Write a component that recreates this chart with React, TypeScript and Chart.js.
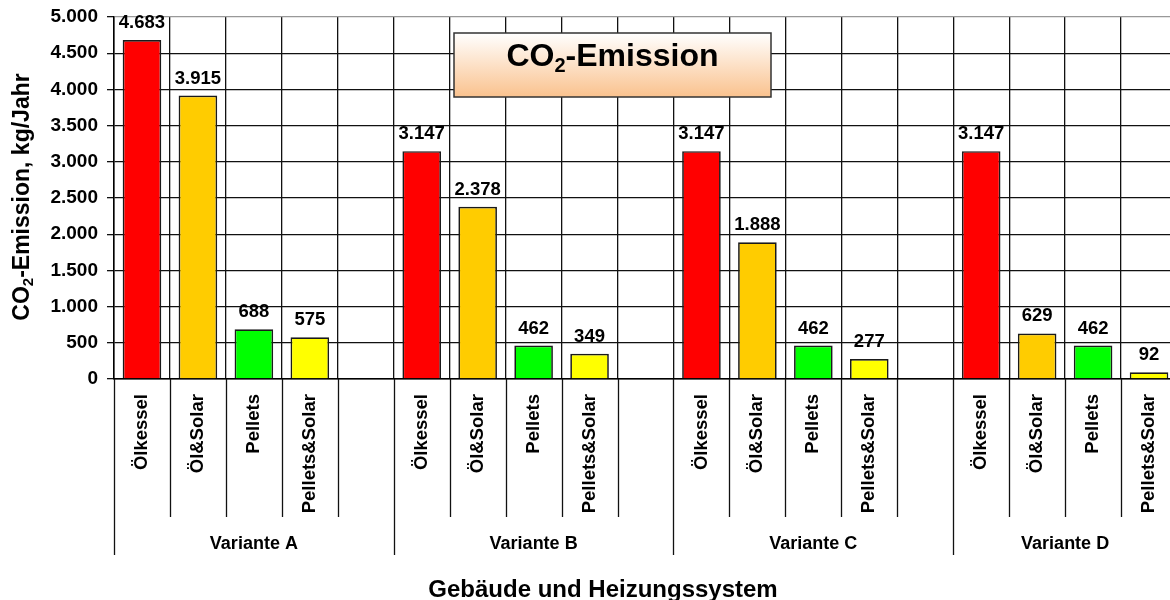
import React, { useEffect, useRef } from 'react';
import { Chart, registerables } from 'chart.js';

Chart.register(...registerables);

const categories = [
  'Ölkessel', 'Öl&Solar', 'Pellets', 'Pellets&Solar', '',
  'Ölkessel', 'Öl&Solar', 'Pellets', 'Pellets&Solar', '',
  'Ölkessel', 'Öl&Solar', 'Pellets', 'Pellets&Solar', '',
  'Ölkessel', 'Öl&Solar', 'Pellets', 'Pellets&Solar',
];
const groupLabels = ['Variante A', 'Variante B', 'Variante C', 'Variante D'];
const groupSizes = [5, 5, 5, 4];
const emissions: (number | null)[] = [
  4683, 3915, 688, 575, null,
  3147, 2378, 462, 349, null,
  3147, 1888, 462, 277, null,
  3147, 629, 462, 92,
];
const systemColors = ['#FF0000', '#FFCC00', '#00FF00', '#FFFF00', 'rgba(0,0,0,0)'];
const yMin = 0;
const yMax = 5000;
const yStep = 500;
const chartTitle = [['CO', false], ['2', true], ['-Emission', false]] as [string, boolean][];
const yTitle = [['CO', false], ['2', true], ['-Emission, kg/Jahr', false]] as [string, boolean][];
const xTitle = 'Gebäude und Heizungssystem';

const FONT = "'Liberation Sans', Arial, Helvetica, sans-serif";
const fmt = (v: number) => String(Math.round(v)).replace(/\B(?=(\d{3})+(?!\d))/g, '.');

function drawChem(ctx: CanvasRenderingContext2D, parts: [string, boolean][], cx: number, baseY: number, big: number, small: number, shift: number) {
  const widths = parts.map(([t, sub]) => {
    ctx.font = `bold ${sub ? small : big}px ${FONT}`;
    return ctx.measureText(t).width;
  });
  const total = widths.reduce((a, b) => a + b, 0);
  let x = cx - total / 2;
  ctx.textAlign = 'left';
  ctx.textBaseline = 'alphabetic';
  parts.forEach(([t, sub], i) => {
    ctx.font = `bold ${sub ? small : big}px ${FONT}`;
    ctx.fillText(t, x, baseY + (sub ? shift : 0));
    x += widths[i];
  });
}

const overlay = {
  id: 'overlay',
  afterDatasetsDraw(chart: any) {
    const ctx: CanvasRenderingContext2D = chart.ctx;
    const meta = chart.getDatasetMeta(0);
    ctx.save();
    ctx.font = `bold 18.5px ${FONT}`;
    ctx.fillStyle = '#000';
    ctx.textAlign = 'center';
    ctx.textBaseline = 'alphabetic';
    meta.data.forEach((el: any, i: number) => {
      const v = emissions[i];
      if (v == null) return;
      ctx.fillText(fmt(v), el.x, el.y - 12);
    });
    ctx.restore();
  },
  afterDraw(chart: any) {
    const ctx: CanvasRenderingContext2D = chart.ctx;
    const { chartArea } = chart;
    const x = chart.scales.x;
    const bottom = chartArea.bottom;
    const half = (x.getPixelForValue(1) - x.getPixelForValue(0)) / 2;
    const groupStarts: number[] = [];
    let acc = 0;
    groupSizes.forEach((s) => { groupStarts.push(acc); acc += s; });
    groupStarts.push(acc);

    ctx.save();
    ctx.strokeStyle = '#111';
    ctx.lineWidth = 1.3;
    for (let i = 0; i <= categories.length; i++) {
      const px = Math.round(x.getPixelForValue(i) - half) + 0.5;
      const isGroup = groupStarts.includes(i);
      ctx.beginPath();
      ctx.moveTo(px, bottom);
      ctx.lineTo(px, bottom + (isGroup ? 176 : 138));
      ctx.stroke();
    }
    ctx.fillStyle = '#000';
    ctx.font = `bold 18px ${FONT}`;
    ctx.textAlign = 'center';
    ctx.textBaseline = 'middle';
    groupLabels.forEach((g, gi) => {
      const a = x.getPixelForValue(groupStarts[gi]) - half;
      const b = x.getPixelForValue(groupStarts[gi + 1]) - half;
      ctx.fillText(g, (a + b) / 2, bottom + 165);
    });

    // title box
    const bx = 454, by = 33, bw = 317, bh = 64;
    const grad = ctx.createLinearGradient(0, by, 0, by + bh);
    grad.addColorStop(0, '#FFFFFF');
    grad.addColorStop(1, '#FAC28E');
    ctx.fillStyle = grad;
    ctx.fillRect(bx, by, bw, bh);
    ctx.strokeStyle = '#333';
    ctx.lineWidth = 1.5;
    ctx.strokeRect(bx, by, bw, bh);
    ctx.fillStyle = '#000';
    drawChem(ctx, chartTitle, bx + bw / 2, 66, 32, 20, 6);

    // y title
    ctx.save();
    ctx.translate(29, 197);
    ctx.rotate(-Math.PI / 2);
    drawChem(ctx, yTitle, 0, 0, 23, 15, 4);
    ctx.restore();

    // x title
    ctx.font = `bold 24px ${FONT}`;
    ctx.textAlign = 'center';
    ctx.textBaseline = 'alphabetic';
    ctx.fillText(xTitle, 603, 597);
    ctx.restore();
  },
};

export default function App() {
  const ref = useRef<HTMLCanvasElement>(null);
  useEffect(() => {
    if (!ref.current) return;
    const chart = new Chart(ref.current, {
      type: 'bar',
      data: {
        labels: categories,
        datasets: [{
          data: emissions as any,
          backgroundColor: emissions.map((_, i) => systemColors[i % 5]),
          borderColor: '#1a1a1a',
          borderWidth: 1.7,
          barPercentage: 0.69,
          categoryPercentage: 1,
        }],
      },
      options: {
        responsive: false,
        devicePixelRatio: 1,
        animation: false,
        layout: { padding: { top: 17, left: 0, right: 1, bottom: 0 } },
        plugins: { legend: { display: false }, tooltip: { enabled: false }, title: { display: false } },
        scales: {
          x: {
            offset: true,
            afterFit: (s: any) => { s.height = 221; s.paddingLeft = 0; s.paddingRight = 0; },
            grid: { offset: true, color: '#111', lineWidth: 1.3, drawTicks: false },
            border: { display: true, color: '#000', width: 1.5 },
            ticks: {
              autoSkip: false, minRotation: 90, maxRotation: 90, padding: 15,
              color: '#000', font: { family: FONT, size: 18.5, weight: 'bold' },
            },
          },
          y: {
            min: yMin, max: yMax,
            afterFit: (s: any) => { s.width = 114; s.paddingTop = 0; s.paddingBottom = 0; },
            grid: {
              color: (c: any) => (c.tick && c.tick.value === yMax ? '#999' : '#111'),
              lineWidth: 1.3, drawTicks: true, tickLength: 7, tickColor: '#111',
            },
            border: { display: true, color: '#000', width: 1.5 },
            ticks: {
              stepSize: yStep, padding: 9, color: '#000',
              font: { family: FONT, size: 19, weight: 'bold' },
              callback: (v: any) => fmt(Number(v)),
            },
          },
        },
      },
      plugins: [overlay],
    } as any);
    return () => chart.destroy();
  }, []);
  return (
    <div style={{ position: 'absolute', left: 0, top: 0, width: 1170, height: 600, overflow: 'hidden', background: '#fff' }}>
      <div style={{ width: 1178, height: 600 }}>
        <canvas ref={ref} width={1178} height={600} style={{ display: 'block', width: 1178, height: 600, maxWidth: 'none' }} />
      </div>
    </div>
  );
}
